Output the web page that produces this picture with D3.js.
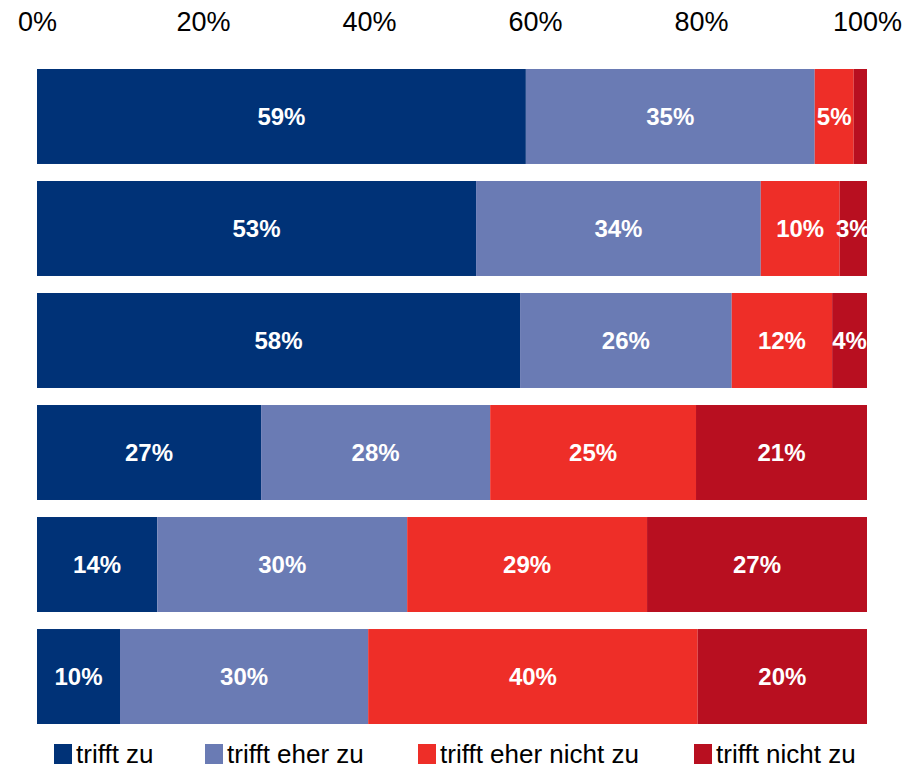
<!DOCTYPE html>
<html>
<head>
<meta charset="utf-8">
<script src="https://cdn.jsdelivr.net/npm/d3@7"></script>
<style>
  html, body { margin: 0; padding: 0; background: #fff; }
  svg { display: block; font-family: "Liberation Sans", Arial, sans-serif; }
</style>
</head>
<body>
<svg id="chart" width="918" height="768"></svg>
<script>
// Survey rows (top to bottom) and answer shares in percent
const rows = ["Aussage 1", "Aussage 2", "Aussage 3", "Aussage 4", "Aussage 5", "Aussage 6"];
const seriesNames = ["trifft zu", "trifft eher zu", "trifft eher nicht zu", "trifft nicht zu"];
const triffZu          = [58.9, 52.9, 58.2, 27.0, 14.49, 10.0];
const triffEherZu      = [34.8, 34.3, 25.5, 27.6, 30.11, 29.9];
const triffEherNichtZu = [ 4.7,  9.5, 12.1, 24.8, 28.9, 39.7];
const triffNichtZu     = [ 1.6,  3.3,  4.2, 20.6, 26.5, 20.4];
const tickValues = [0, 20, 40, 60, 80, 100];
const colors = ["#003277", "#6a7bb4", "#ee2e28", "#b80f20"];

const seriesValues = [triffZu, triffEherZu, triffEherNichtZu, triffNichtZu];
const table = rows.map((r, i) => {
  const o = { row: r };
  seriesNames.forEach((s, k) => { o[s] = seriesValues[k][i]; });
  return o;
});

const svg = d3.select("#chart");

const x = d3.scaleLinear().domain([0, 100]).range([37, 867]);
const y = d3.scaleBand().domain(rows).range([69, 724]).paddingInner(0.152).paddingOuter(0);
const color = d3.scaleOrdinal().domain(seriesNames).range(colors);

const stacked = d3.stack().keys(seriesNames)(table);

// top axis: percentage labels only
const axis = svg.append("g")
  .attr("transform", "translate(0,5)")
  .call(d3.axisTop(x).tickValues(tickValues).tickSize(0).tickPadding(0).tickFormat(d => d + "%"));
axis.select(".domain").remove();
axis.selectAll("text")
  .attr("y", 26)
  .attr("dy", 0)
  .style("font-size", "27px")
  .style("font-family", "'Liberation Sans', Arial, sans-serif")
  .attr("fill", "#000");

// stacked segments
const layers = svg.append("g").selectAll("g")
  .data(stacked)
  .join("g")
  .attr("fill", d => color(d.key));

layers.selectAll("rect")
  .data(d => d)
  .join("rect")
  .attr("x", d => x(d[0]))
  .attr("y", d => y(d.data.row))
  .attr("width", d => x(d[1]) - x(d[0]))
  .attr("height", y.bandwidth());

// value labels centred in each segment
const labels = svg.append("g");
stacked.forEach(layer => {
  layer.forEach(d => {
    const v = d[1] - d[0];
    if (v < 2.5) return;
    labels.append("text")
      .attr("x", x((d[0] + d[1]) / 2))
      .attr("y", y(d.data.row) + y.bandwidth() / 2)
      .attr("dy", "0.36em")
      .attr("text-anchor", "middle")
      .attr("fill", "#fff")
      .style("font-weight", "bold")
      .style("font-size", "24px")
      .text(Math.round(v) + "%");
  });
});

// legend along the bottom edge
const legendX = [54, 205, 418, 694];
const legend = svg.append("g").selectAll("g")
  .data(seriesNames)
  .join("g")
  .attr("transform", (d, i) => `translate(${legendX[i]},744)`);
legend.append("rect")
  .attr("width", 18).attr("height", 20)
  .attr("fill", d => color(d));
legend.append("text")
  .attr("x", 22).attr("y", 19)
  .style("font-size", "26px")
  .attr("fill", "#000")
  .text(d => d);
</script>
</body>
</html>
